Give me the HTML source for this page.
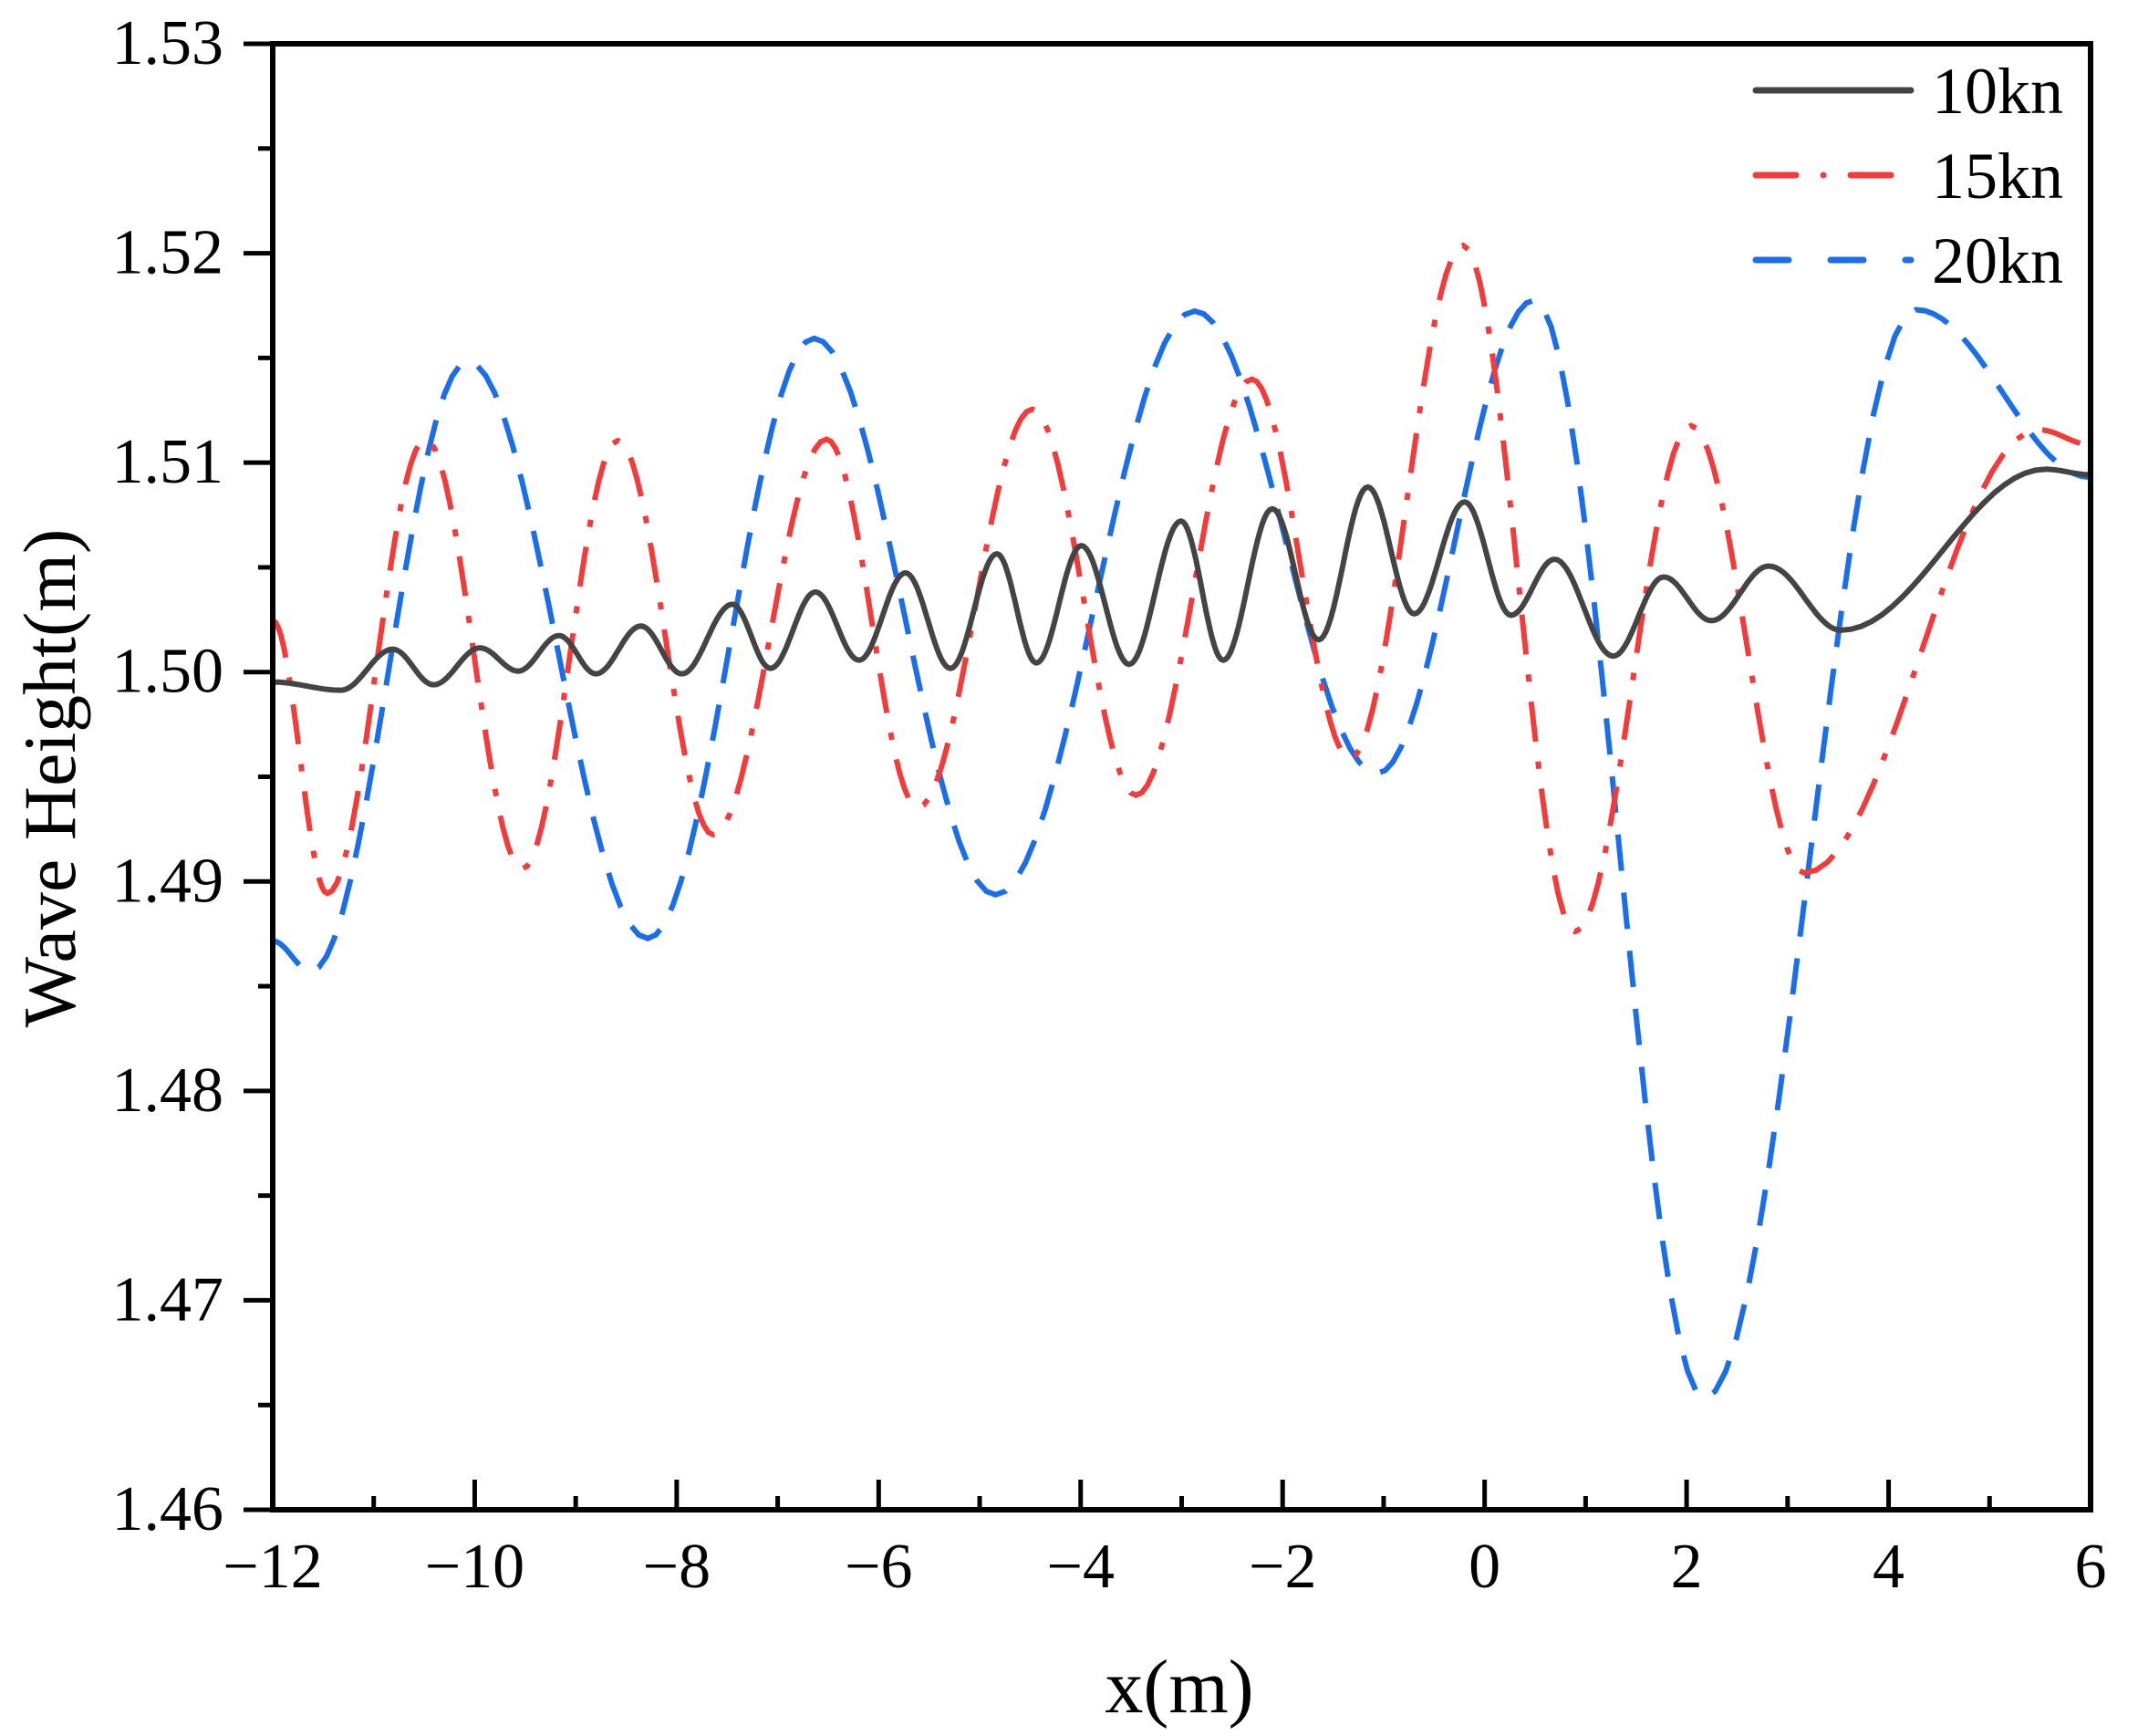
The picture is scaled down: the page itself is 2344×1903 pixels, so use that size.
<!DOCTYPE html>
<html><head><meta charset="utf-8"><style>body{margin:0;background:#fff}svg{display:block}</style></head>
<body>
<svg id="s" width="2344" height="1903" xmlns="http://www.w3.org/2000/svg" font-family="Liberation Serif, serif">
<rect width="2344" height="1903" fill="#fff"/>
<g id="series"></g>
<g stroke="#000" stroke-width="6" fill="none">
<rect x="299" y="48" width="1993" height="1607"/>
</g>
<g id="ticks" stroke="#000" stroke-width="5"></g>
<g id="labels" font-size="70" fill="#000"></g>
<text x="1293" y="1877" font-size="84" text-anchor="middle">x(m)</text>
<text transform="translate(82,853) rotate(-90)" font-size="82" text-anchor="middle">Wave Height(m)</text>
<g stroke-width="7" stroke-linecap="round">
<line x1="1925" y1="99" x2="2095" y2="99" stroke="#444"/>
<line x1="1925" y1="192" x2="2095" y2="192" stroke="#f23c3c" stroke-dasharray="44 30 0 30"/>
<line x1="1925" y1="285" x2="2095" y2="285" stroke="#1a6ee8" stroke-dasharray="36 46"/>
</g>
<g font-size="72" fill="#000">
<text x="2118" y="124">10kn</text>
<text x="2118" y="217">15kn</text>
<text x="2118" y="310">20kn</text>
</g>
</svg>
<script>
var NS="http://www.w3.org/2000/svg";
function X(d){return 299+(d-200)*1.4951;}
function Y(d){return 48+(d-32)*1.4949;}
function path(pts){var s="";for(var i=0;i<pts.length-1;i++){var a=pts[i],b=pts[i+1];var n=20;for(var k=(i==0?0:1);k<=n;k++){var t=k/n;var x=a[0]+(b[0]-a[0])*t;var m=(1-Math.cos(Math.PI*t))/2;var y=a[1]+(b[1]-a[1])*m;s+=(s?"L":"M")+X(x).toFixed(1)+","+Y(y).toFixed(1);}}return s;}
var black=[[200,500],[250,506],[288,476],[318,502],[352,475],[380,492],[410,466],[437,494],[470,459],[500,494],[537,443],[565,490],[598,434],[630,484],[664,420],[697,490],[731,406],[760,486],[793,400],[828,487],[866,382],[897,484],[933,373],[967,469],[1003,357],[1037,450],[1074,368],[1108,451],[1140,410],[1183,481],[1220,423],[1255,455],[1297,415],[1350,462],[1500,344],[1533,348]];
var red=[[200,455],[240,655],[312,322],[383,637],[453,323],[523,612],[606,322],[673,592],[757,300],[833,583],[918,278],[990,556],[1073,180],[1155,683],[1240,312],[1323,640],[1495,315],[1533,326]];
var blue=[[200,690],[228,712],[343,265],[475,688],[597,248],[730,656],[876,228],[1010,567],[1125,220],[1250,1025],[1405,227],[1533,350]];
var g=document.getElementById("series");
function add(p,c,da){var e=document.createElementNS(NS,"path");e.setAttribute("d",path(p));e.setAttribute("fill","none");e.setAttribute("stroke",c);e.setAttribute("stroke-width","6");if(da)e.setAttribute("stroke-dasharray",da);g.appendChild(e);}
add(blue,"#1a6ee8","40 24");
add(red,"#f23c3c","44 22 8 22");
add(black,"#444",null);
var t=document.getElementById("ticks"),L=document.getElementById("labels");
function ln(x1,y1,x2,y2){var e=document.createElementNS(NS,"line");e.setAttribute("x1",x1);e.setAttribute("y1",y1);e.setAttribute("x2",x2);e.setAttribute("y2",y2);t.appendChild(e);}
function tx(x,y,s,a){var e=document.createElementNS(NS,"text");e.setAttribute("x",x);e.setAttribute("y",y);e.setAttribute("text-anchor",a);e.textContent=s;L.appendChild(e);}
for(var i=0;i<=14;i++){var y=48+i*1607/14;ln(i%2?283:267,y,299,y);if(i%2==0){var v=(1.53-i*0.005).toFixed(2);tx(245,y+22,v,"end");}}
for(var i=0;i<=18;i++){var x=299+i*1993/18;ln(x,1655,x,i%2?1640:1622);if(i%2==0){var v=-12+i;tx(x,1740,(v<0?"\u2212":"")+Math.abs(v),"middle");}}
</script>
</body></html>
